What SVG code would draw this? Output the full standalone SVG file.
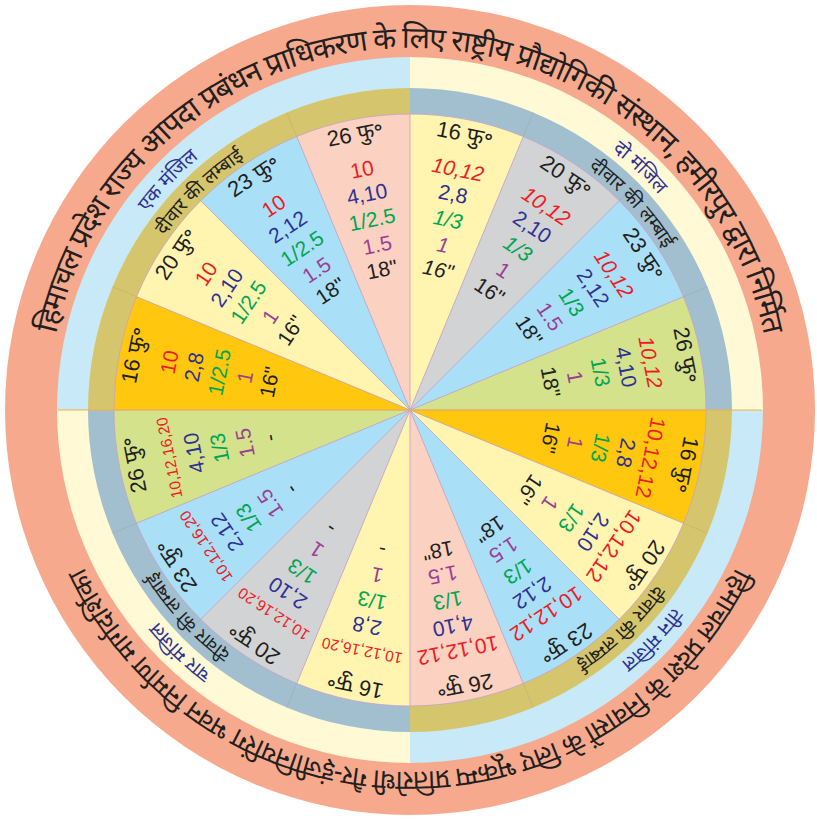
<svg xmlns="http://www.w3.org/2000/svg" width="817" height="821" viewBox="0 0 817 821">
<defs>
<style>
.t{font-family:'Liberation Sans','Noto Sans','Noto Sans Devanagari','Lohit Devanagari',sans-serif;font-size:21px;text-anchor:middle}
.hd{font-size:22px;fill:#231f20}
.r{fill:#ed1c24}.b{fill:#2e3192}.g{fill:#00a651}.p{fill:#9b3f93}.k{fill:#231f20}
.sm{font-size:15.5px}
.it{font-style:italic}
.dev{font-family:'Noto Sans Devanagari','Lohit Devanagari','Noto Sans','Liberation Sans',sans-serif}
.outer{font-size:30px;fill:#231f20}
.outerb{font-size:27px;fill:#231f20}
.ring{font-size:19px;fill:#231f20}
.ringb{font-size:19.5px;fill:#2e3192}
.sep{stroke:#c7a0c6;stroke-width:0.8;fill:none}
.rsep{stroke:#8c8c6a;stroke-width:0.6;opacity:0.35}
.orng{fill:#ffc70e}.yel{fill:#fff5b1}.blu{fill:#aadff8}.pnk{fill:#fbd1c1}.gry{fill:#d1d3d4}.grn{fill:#d3e28b}
</style>
<path id="pTop" d="M53.5 472.9 A362 362 0 1 1 766.5 472.9"/>
<path id="pBot" d="M766.5 347.1 A362 362 0 1 1 53.5 347.1"/>
<path id="rTL" d="M109.05 404.75 A301 301 0 0 1 415.25 109.05"/>
<path id="rTR" d="M420.5 109.18 A301 301 0 0 1 710.82 420.5"/>
<path id="rBR" d="M710.95 415.25 A301 301 0 0 1 404.75 710.95"/>
<path id="rBL" d="M399.5 710.82 A301 301 0 0 1 109.18 399.5"/>
<path id="lTL" d="M81.11 418.61 A329 329 0 0 1 401.39 81.11"/>
<path id="lTR" d="M401.39 81.11 A329 329 0 0 1 738.89 401.39"/>
<path id="lBR" d="M738.89 401.39 A329 329 0 0 1 418.61 738.89"/>
<path id="lBL" d="M418.61 738.89 A329 329 0 0 1 81.11 418.61"/>
</defs>

<g id="background">
<circle cx="410" cy="410" r="405" fill="#f6a98c"/>
<path d="M410 410 L57 410 A353 353 0 0 1 410 57 Z" fill="#c7e9f8"/>
<path d="M410 410 L410 57 A353 353 0 0 1 763 410 Z" fill="#fff9d6"/>
<path d="M410 410 L763 410 A353 353 0 0 1 410 763 Z" fill="#c7e9f8"/>
<path d="M410 410 L410 763 A353 353 0 0 1 57 410 Z" fill="#fff9d6"/>
<path d="M410 410 L88 410 A322 322 0 0 1 410 88 Z" fill="#d5c66d"/>
<path d="M410 410 L410 88 A322 322 0 0 1 732 410 Z" fill="#a2bfd0"/>
<path d="M410 410 L732 410 A322 322 0 0 1 410 732 Z" fill="#d5c66d"/>
<path d="M410 410 L410 732 A322 322 0 0 1 88 410 Z" fill="#a2bfd0"/>
</g>

<g id="outer-title-top">
<text class="t dev outer"><textPath href="#pTop" startOffset="50%" textLength="985" lengthAdjust="spacing">हिमाचल प्रदेश राज्य आपदा प्रबंधन प्राधिकरण के लिए राष्ट्रीय प्रौद्योगिकी संस्थान, हमीरपुर द्वारा निर्मित</textPath></text>
</g>
<g id="outer-title-bottom">
<text class="t dev outerb"><textPath href="#pBot" startOffset="50%" textLength="812" lengthAdjust="spacing">हिमाचल प्रदेश के निवासों के लिए भूकम्प प्रतिरोधी गैर-इंजीनियरिंग भवन निर्माण मार्गदर्शिका</textPath></text>
</g>

<!-- top-left quadrant: एक मंजिल -->
<g id="w-tl-26">
<path class="pnk" d="M410 410 L410 114 A296 296 0 0 0 296.73 136.53 Z"/>
<g transform="translate(410 410) rotate(-11.25)">
<text class="t hd" y="-274">26 फु॰</text>
<text class="t r" y="-238">10</text>
<text class="t b" y="-213">4,10</text>
<text class="t g" y="-187">1/2.5</text>
<text class="t p" y="-161">1.5</text>
<text class="t k" y="-136">18"</text>
</g>
</g>
<g id="w-tl-23">
<path class="blu" d="M410 410 L296.73 136.53 A296 296 0 0 0 200.7 200.7 Z"/>
<g transform="translate(410 410) rotate(-33.75)">
<text class="t hd" y="-274">23 फु॰</text>
<text class="t r" y="-238">10</text>
<text class="t b" y="-213">2,12</text>
<text class="t g" y="-187">1/2.5</text>
<text class="t p" y="-161">1.5</text>
<text class="t k" y="-136">18"</text>
</g>
</g>
<g id="w-tl-20">
<path class="yel" d="M410 410 L200.7 200.7 A296 296 0 0 0 136.53 296.73 Z"/>
<g transform="translate(410 410) rotate(-56.25)">
<text class="t hd" y="-274">20 फु॰</text>
<text class="t r" y="-238">10</text>
<text class="t b" y="-213">2,10</text>
<text class="t g" y="-187">1/2.5</text>
<text class="t p" y="-161">1</text>
<text class="t k" y="-136">16"</text>
</g>
</g>
<g id="w-tl-16">
<path class="orng" d="M410 410 L136.53 296.73 A296 296 0 0 0 114 410 Z"/>
<g transform="translate(410 410) rotate(-78.75)">
<text class="t hd" y="-274">16 फु॰</text>
<text class="t r" y="-238">10</text>
<text class="t b" y="-213">2,8</text>
<text class="t g" y="-187">1/2.5</text>
<text class="t p" y="-161">1</text>
<text class="t k" y="-136">16"</text>
</g>
</g>

<!-- bottom-left quadrant: चार मंजिल -->
<g id="w-bl-26">
<path class="grn" d="M410 410 L114 410 A296 296 0 0 0 136.53 523.27 Z"/>
<g transform="translate(410 410) rotate(-101.25)">
<text class="t hd" y="-274">26 फु॰</text>
<text class="t r sm" y="-240">10,12,16,20</text>
<text class="t b" y="-213">4,10</text>
<text class="t g" y="-187">1/3</text>
<text class="t p" y="-161">1.5</text>
<text class="t k" y="-136">-</text>
</g>
</g>
<g id="w-bl-23">
<path class="blu" d="M410 410 L136.53 523.27 A296 296 0 0 0 200.7 619.3 Z"/>
<g transform="translate(410 410) rotate(-123.75)">
<text class="t hd" y="-274">23 फु॰</text>
<text class="t r sm" y="-240">10,12,16,20</text>
<text class="t b" y="-213">2,12</text>
<text class="t g" y="-187">1/3</text>
<text class="t p" y="-161">1.5</text>
<text class="t k" y="-136">-</text>
</g>
</g>
<g id="w-bl-20">
<path class="gry" d="M410 410 L200.7 619.3 A296 296 0 0 0 296.73 683.47 Z"/>
<g transform="translate(410 410) rotate(-146.25)">
<text class="t hd" y="-274">20 फु॰</text>
<text class="t r sm" y="-240">10,12,16,20</text>
<text class="t b" y="-213">2,10</text>
<text class="t g" y="-187">1/3</text>
<text class="t p" y="-161">1</text>
<text class="t k" y="-136">-</text>
</g>
</g>
<g id="w-bl-16">
<path class="yel" d="M410 410 L296.73 683.47 A296 296 0 0 0 410 706 Z"/>
<g transform="translate(410 410) rotate(-168.75)">
<text class="t hd" y="-274">16 फु॰</text>
<text class="t r sm" y="-240">10,12,16,20</text>
<text class="t b" y="-213">2,8</text>
<text class="t g" y="-187">1/3</text>
<text class="t p" y="-161">1</text>
<text class="t k" y="-136">-</text>
</g>
</g>

<!-- bottom-right quadrant: तीन मंजिल -->
<g id="w-br-26">
<path class="pnk" d="M410 410 L410 706 A296 296 0 0 0 523.27 683.47 Z"/>
<g transform="translate(410 410) rotate(168.75)">
<text class="t hd" y="-274">26 फु॰</text>
<text class="t r" y="-238">10,12,12</text>
<text class="t b" y="-213">4,10</text>
<text class="t g" y="-187">1/3</text>
<text class="t p" y="-161">1.5</text>
<text class="t k" y="-136">18"</text>
</g>
</g>
<g id="w-br-23">
<path class="blu" d="M410 410 L523.27 683.47 A296 296 0 0 0 619.3 619.3 Z"/>
<g transform="translate(410 410) rotate(146.25)">
<text class="t hd" y="-274">23 फु॰</text>
<text class="t r" y="-238">10,12,12</text>
<text class="t b" y="-213">2,12</text>
<text class="t g" y="-187">1/3</text>
<text class="t p" y="-161">1.5</text>
<text class="t k" y="-136">18"</text>
</g>
</g>
<g id="w-br-20">
<path class="yel" d="M410 410 L619.3 619.3 A296 296 0 0 0 683.47 523.27 Z"/>
<g transform="translate(410 410) rotate(123.75)">
<text class="t hd" y="-274">20 फु॰</text>
<text class="t r" y="-238">10,12,12</text>
<text class="t b" y="-213">2,10</text>
<text class="t g" y="-187">1/3</text>
<text class="t p" y="-161">1</text>
<text class="t k" y="-136">16"</text>
</g>
</g>
<g id="w-br-16">
<path class="orng" d="M410 410 L683.47 523.27 A296 296 0 0 0 706 410 Z"/>
<g transform="translate(410 410) rotate(101.25)">
<text class="t hd" y="-274">16 फु॰</text>
<text class="t r" y="-238">10,12,12</text>
<text class="t b" y="-213">2,8</text>
<text class="t g" y="-187">1/3</text>
<text class="t p" y="-161">1</text>
<text class="t k" y="-136">16"</text>
</g>
</g>

<!-- top-right quadrant: दो मंजिल -->
<g id="w-tr-26">
<path class="grn" d="M410 410 L706 410 A296 296 0 0 0 683.47 296.73 Z"/>
<g transform="translate(410 410) rotate(78.75)">
<text class="t hd" y="-274">26 फु॰</text>
<text class="t r it" y="-238">10,12</text>
<text class="t b" y="-213">4,10</text>
<text class="t g" y="-187">1/3</text>
<text class="t p" y="-161">1</text>
<text class="t k" y="-136">18"</text>
</g>
</g>
<g id="w-tr-23">
<path class="blu" d="M410 410 L683.47 296.73 A296 296 0 0 0 619.3 200.7 Z"/>
<g transform="translate(410 410) rotate(56.25)">
<text class="t hd" y="-274">23 फु॰</text>
<text class="t r it" y="-238">10,12</text>
<text class="t b" y="-213">2,12</text>
<text class="t g" y="-187">1/3</text>
<text class="t p" y="-161">1.5</text>
<text class="t k" y="-136">18"</text>
</g>
</g>
<g id="w-tr-20">
<path class="gry" d="M410 410 L619.3 200.7 A296 296 0 0 0 523.27 136.53 Z"/>
<g transform="translate(410 410) rotate(33.75)">
<text class="t hd" y="-274">20 फु॰</text>
<text class="t r it" y="-238">10,12</text>
<text class="t b" y="-213">2,10</text>
<text class="t g it" y="-187">1/3</text>
<text class="t p" y="-161">1</text>
<text class="t k" y="-136">16"</text>
</g>
</g>
<g id="w-tr-16">
<path class="yel" d="M410 410 L523.27 136.53 A296 296 0 0 0 410 114 Z"/>
<g transform="translate(410 410) rotate(11.25)">
<text class="t hd" y="-274">16 फु॰</text>
<text class="t r it" y="-238">10,12</text>
<text class="t b" y="-213">2,8</text>
<text class="t g it" y="-187">1/3</text>
<text class="t p it" y="-161">1</text>
<text class="t k it" y="-136">16"</text>
</g>
</g>

<g id="connectors">
<circle cx="410" cy="410" r="296" class="sep"/>
<path class="sep" d="M410 410 L706 410 M410 410 L683.47 296.73 M410 410 L619.3 200.7 M410 410 L523.27 136.53 M410 410 L410 114 M410 410 L296.73 136.53 M410 410 L200.7 200.7 M410 410 L136.53 296.73 M410 410 L114 410 M410 410 L136.53 523.27 M410 410 L200.7 619.3 M410 410 L296.73 683.47 M410 410 L410 706 M410 410 L523.27 683.47 M410 410 L619.3 619.3 M410 410 L683.47 523.27"/>
<path class="rsep" d="M683.47 296.73 L707.5 286.8 M619.3 200.7 L637.7 182.3 M523.27 136.53 L533.2 112.5 M296.73 136.53 L286.8 112.5 M200.7 200.7 L182.3 182.3 M136.53 296.73 L112.5 286.8 M136.53 523.27 L112.5 533.2 M200.7 619.3 L182.3 637.7 M296.73 683.47 L286.8 707.5 M523.27 683.47 L533.2 707.5 M619.3 619.3 L637.7 637.7 M683.47 523.27 L707.5 533.2"/>
<line x1="58" y1="410" x2="762" y2="410" stroke="#f5b041" stroke-width="1"/>
</g>

<g id="ring-tl">
<text class="t dev ring"><textPath href="#rTL" startOffset="50%">दीवार की लम्बाई</textPath></text>
<text class="t dev ringb"><textPath href="#lTL" startOffset="50%">एक मंजिल</textPath></text>
</g>
<g id="ring-tr">
<text class="t dev ring"><textPath href="#rTR" startOffset="50%">दीवार की लम्बाई</textPath></text>
<text class="t dev ringb"><textPath href="#lTR" startOffset="50%">दो मंजिल</textPath></text>
</g>
<g id="ring-br">
<text class="t dev ring"><textPath href="#rBR" startOffset="50%">दीवार की लम्बाई</textPath></text>
<text class="t dev ringb"><textPath href="#lBR" startOffset="50%">तीन मंजिल</textPath></text>
</g>
<g id="ring-bl">
<text class="t dev ring"><textPath href="#rBL" startOffset="50%">दीवार की लम्बाई</textPath></text>
<text class="t dev ringb"><textPath href="#lBL" startOffset="50%">चार मंजिल</textPath></text>
</g>
</svg>
